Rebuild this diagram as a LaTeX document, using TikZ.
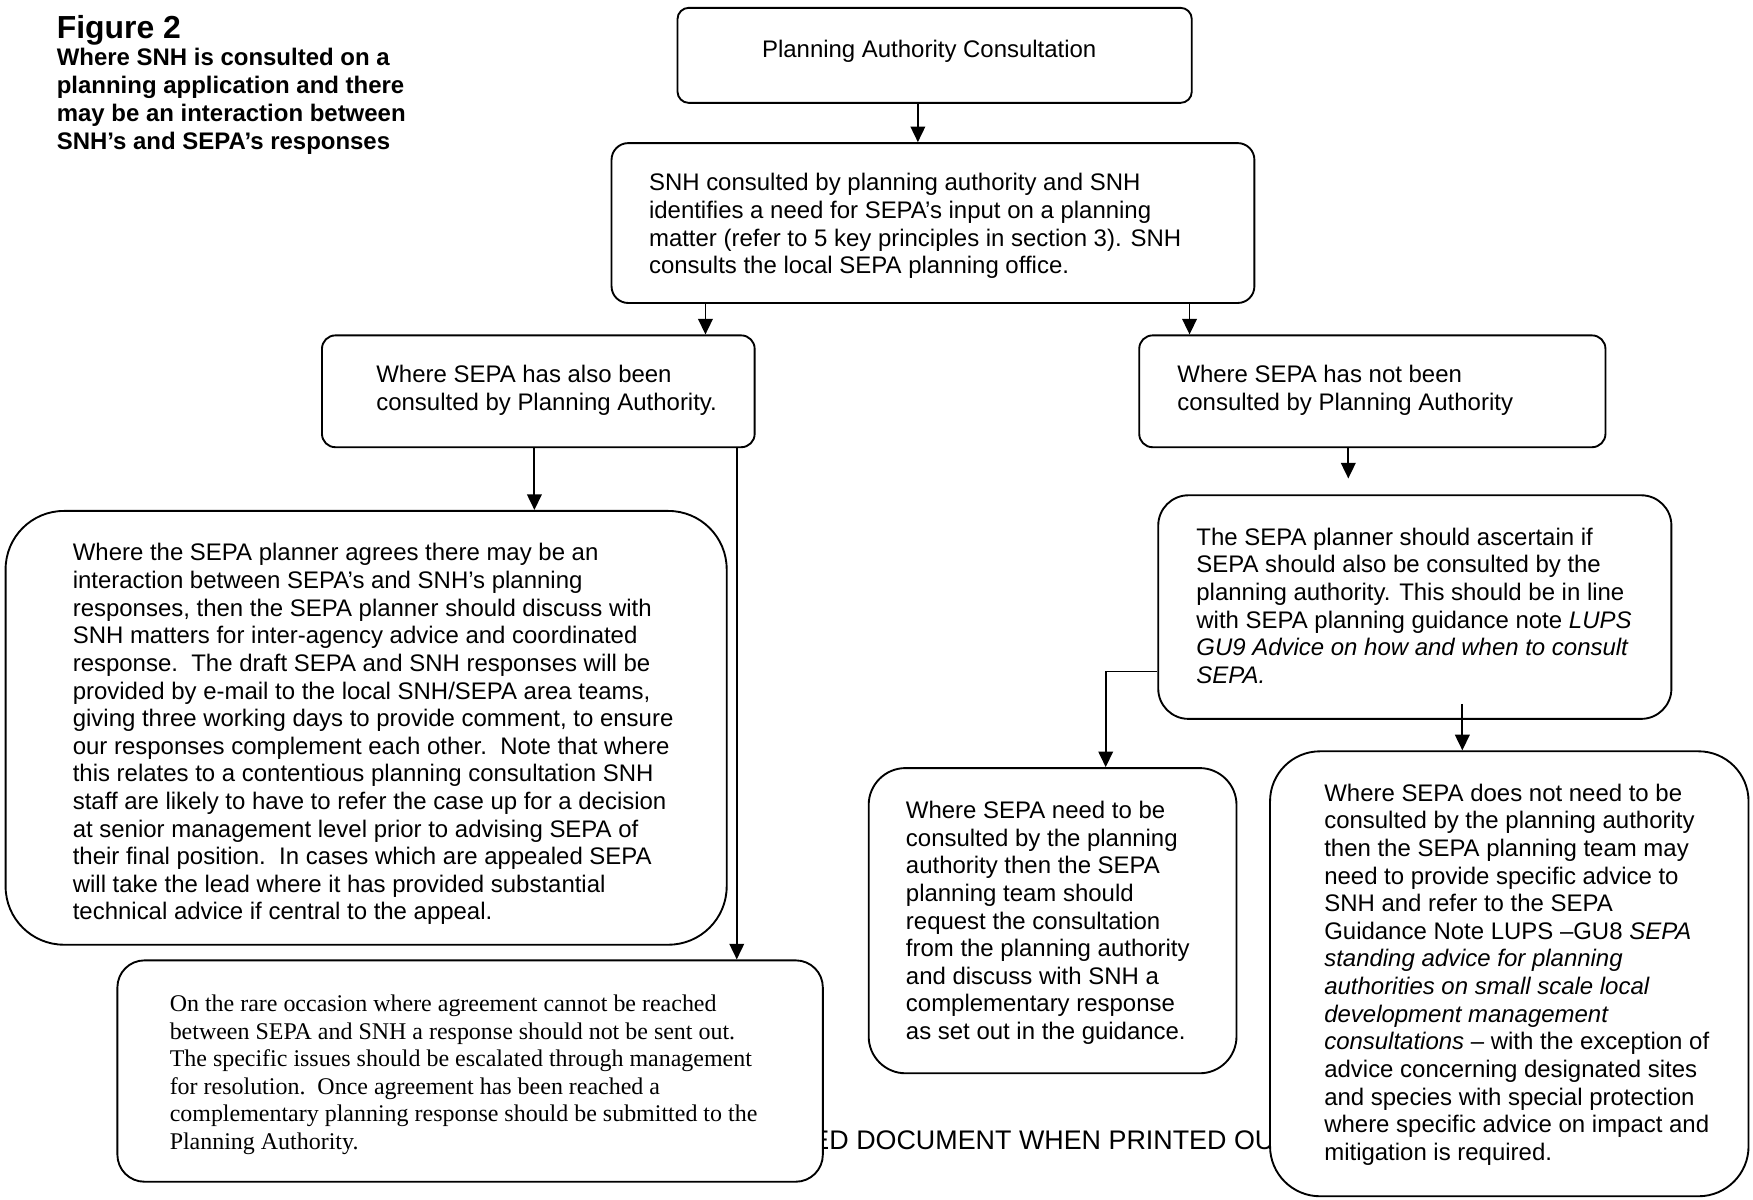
\documentclass[tikz,border=0pt]{standalone}
\usepackage{fontspec}
\setmainfont{Liberation Sans}
\newfontfamily\timesfont{Liberation Serif}
\usetikzlibrary{fit,arrows.meta}

\begin{document}
\begin{tikzpicture}
  [-{Triangle[length=7.5pt,width=7pt]}, line width=0.9pt,
   x=0.5366pt, y=-0.5366pt,
   box/.style={draw, fill=white, inner sep=0pt, line width=0.9pt},
   txt/.style={anchor=north west, inner sep=0pt, align=left,
     font=\fontsize{11.5}{13.25}\selectfont}]

  \useasboundingbox (0,0) rectangle (1568,1073);

  % Titulo da figura
  \node[anchor=base west, inner sep=0pt, font=\bfseries\fontsize{15.3}{18}\selectfont] (fig) at (50,34.3) {Figure 2};
  \node[txt, font=\bfseries\fontsize{11.5}{13.36}\selectfont] (figcap) at (50,42.5)
    {Where SNH is consulted on a\\planning application and there\\may be an interaction between\\SNH’s and SEPA’s responses};

  % Rodape (parcialmente coberto pelas caixas)
  \node[anchor=base west, inner sep=0pt, font=\fontsize{12.9}{15}\selectfont] (footer) at (725,1028) {ED DOCUMENT WHEN PRINTED OU};

  % Caixas do topo
  \node[box, rounded corners=5.4pt, fit={(606,7) (1066,92)}] (consult) {};
  \node[box, rounded corners=8pt, fit={(547,128) (1122,271)}] (snh) {};

  % Segunda camada
  \node[box, rounded corners=6.4pt, fit={(288,300) (675,400)}] (also) {};
  \node[box, rounded corners=6.4pt, fit={(1019,300) (1436,400)}] (notcons) {};

  % Ramo esquerdo
  \node[box, rounded corners=28pt, fit={(5,457) (650,845)}] (discuss) {};
  \node[box, rounded corners=13pt, fit={(105,859) (736,1057)}] (rare) {};

  % Ramo direito
  \node[box, rounded corners=14.5pt, fit={(1036,443) (1495,643)}] (ascertain) {};
  \node[box, rounded corners=17.7pt, fit={(777,687) (1106,960)}] (need) {};
  \node[box, rounded corners=24pt, fit={(1136,672) (1564,1070)}] (noneed) {};

  % Textos das caixas
  \node[txt] (consultT) at (680.8,35.1) {Planning Authority Consultation};
  \node[txt] (snhT) at (579.7,154.4)
    {SNH consulted by planning authority and SNH\\identifies a need for SEPA’s input on a planning\\matter (refer to 5 key principles in section 3). SNH\\consults the local SEPA planning office.};
  \node[txt] (alsoT) at (335.8,325.8)
    {Where SEPA has also been\\consulted by Planning Authority.};
  \node[txt] (notconsT) at (1052.3,325.8)
    {Where SEPA has not been\\consulted by Planning Authority};
  \node[txt] (discussT) at (64.3,485.4)
    {Where the SEPA planner agrees there may be an\\
     interaction between SEPA’s and SNH’s planning\\
     responses, then the SEPA planner should discuss with\\
     SNH matters for inter-agency advice and coordinated\\
     response.\ \ The draft SEPA and SNH responses will be\\
     provided by e-mail to the local SNH/SEPA area teams,\\
     giving three working days to provide comment, to ensure\\
     our responses complement each other.\ \ Note that where\\
     this relates to a contentious planning consultation SNH\\
     staff are likely to have to refer the case up for a decision\\
     at senior management level prior to advising SEPA of\\
     their final position.\ \ In cases which are appealed SEPA\\
     will take the lead where it has provided substantial\\
     technical advice if central to the appeal.};
  \node[txt, font=\timesfont\fontsize{11.5}{13.2}\selectfont] (rareT) at (151,889.4)
    {On the rare occasion where agreement cannot be reached\\
     between SEPA and SNH a response should not be sent out.\\
     The specific issues should be escalated through management\\
     for resolution.\ \ Once agreement has been reached a\\
     complementary planning response should be submitted to the\\
     Planning Authority.};
  \node[txt] (ascertainT) at (1069.3,471.4)
    {The SEPA planner should ascertain if\\
     SEPA should also be consulted by the\\
     planning authority. This should be in line\\
     with SEPA planning guidance note \textit{LUPS}\\
     \textit{GU9 Advice on how and when to consult}\\
     \textit{SEPA.}};
  \node[txt] (needT) at (809.5,715.9)
    {Where SEPA need to be\\consulted by the planning\\authority then the SEPA\\planning team should\\request the consultation\\from the planning authority\\and discuss with SNH a\\complementary response\\as set out in the guidance.};
  \node[txt] (noneedT) at (1183.7,700.4)
    {Where SEPA does not need to be\\
     consulted by the planning authority\\
     then the SEPA planning team may\\
     need to provide specific advice to\\
     SNH and refer to the SEPA\\
     Guidance Note LUPS –GU8 \textit{SEPA}\\
     \textit{standing advice for planning}\\
     \textit{authorities on small scale local}\\
     \textit{development management}\\
     \textit{consultations} – with the exception of\\
     advice concerning designated sites\\
     and species with special protection\\
     where specific advice on impact and\\
     mitigation is required.};

  % Pontos livres das setas
  \coordinate (gap) at (1206,428);
  \coordinate (inbox) at (1308,629.5);

  % Conectando as caixas
  \draw (821,0 |- consult.south) -- (821,0 |- snh.north);
  \draw (631,0 |- snh.south) -- (631,0 |- also.north);
  \draw (1064,0 |- snh.south) -- (1064,0 |- notcons.north);
  \draw (478,0 |- also.south) -- (478,0 |- discuss.north);
  \draw (659,0 |- also.south) -- (659,0 |- rare.north);
  \draw (gap |- notcons.south) -- (gap);
  \draw (ascertain.west |- 0,600.6) -| (989,0 |- need.north);
  \draw (inbox) -- (inbox |- noneed.north);
\end{tikzpicture}
\end{document}
